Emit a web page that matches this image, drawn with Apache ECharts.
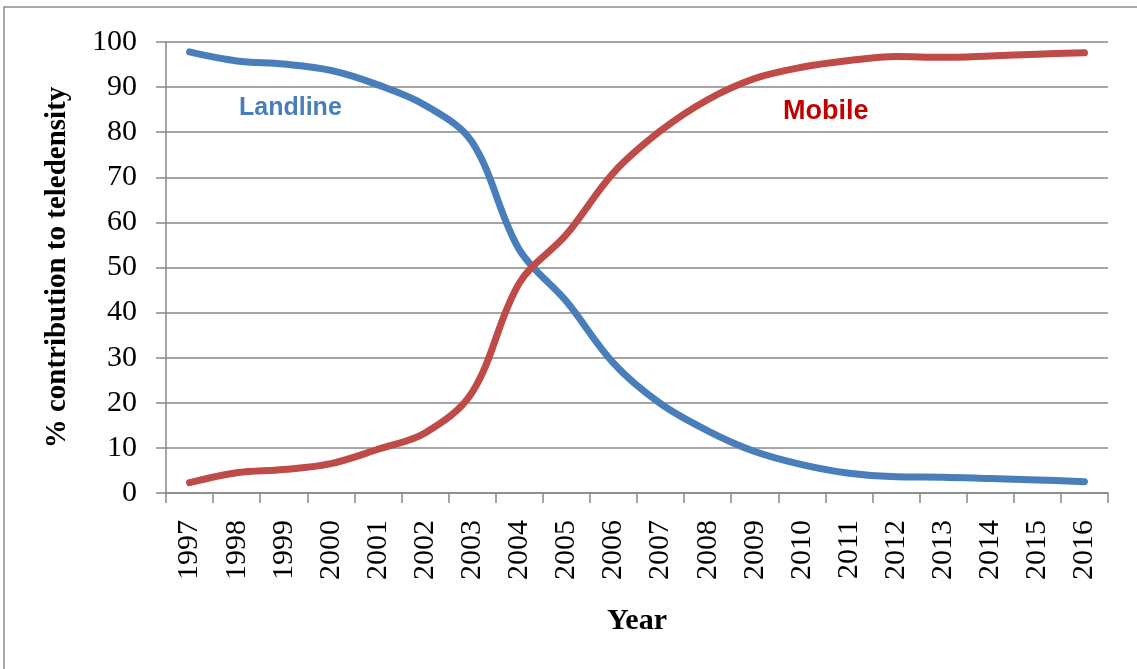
<!DOCTYPE html>
<html>
<head>
<meta charset="utf-8">
<script src="https://cdn.jsdelivr.net/npm/echarts@6/dist/echarts.min.js"></script>
<style>
  html, body { margin: 0; padding: 0; background: #fff; }
  #chart { width: 1137px; height: 669px; }
</style>
</head>
<body>
<div id="chart"></div>
<script>
// Share of each technology in total teledensity, by year
const years = ['1997','1998','1999','2000','2001','2002','2003','2004','2005','2006',
               '2007','2008','2009','2010','2011','2012','2013','2014','2015','2016'];
const landline = [97.8, 95.8, 95.1, 93.7, 90.5, 86.0, 77.8, 54.0, 42.5, 28.8,
                  19.8, 13.8, 9.2, 6.3, 4.4, 3.6, 3.5, 3.2, 2.9, 2.5];
const mobile   = [2.3, 4.5, 5.2, 6.5, 9.7, 13.3, 22.3, 46.5, 57.3, 71.0,
                  80.3, 87.2, 91.9, 94.4, 95.9, 96.8, 96.6, 96.9, 97.3, 97.6];

const serif = '"Liberation Serif", "Times New Roman", serif';
const sans = '"Liberation Sans", Arial, sans-serif';
const gridGray = '#878787';

const chart = echarts.init(document.getElementById('chart'), null, { renderer: 'canvas' });

chart.setOption({
  backgroundColor: '#ffffff',
  animation: false,
  grid: { left: 166, right: 29, top: 42, bottom: 176, containLabel: false },
  xAxis: {
    type: 'category',
    data: years,
    boundaryGap: true,
    name: 'Year',
    nameLocation: 'middle',
    nameGap: 113,
    nameTextStyle: { fontFamily: serif, fontSize: 30, fontWeight: 'bold', color: '#000' },
    axisLine: { show: true, lineStyle: { color: gridGray, width: 1.5 } },
    axisTick: { show: true, length: 10, alignWithLabel: false, lineStyle: { color: gridGray, width: 1.5 } },
    axisLabel: { rotate: 90, margin: 27, fontFamily: serif, fontSize: 30, color: '#000' },
    splitLine: { show: false }
  },
  yAxis: {
    type: 'value',
    min: 0,
    max: 100,
    interval: 10,
    name: '% contribution to teledensity',
    nameLocation: 'middle',
    nameRotate: 90,
    nameGap: 94,
    nameTextStyle: { fontFamily: serif, fontSize: 29, fontWeight: 'bold', color: '#000' },
    axisLine: { show: true, lineStyle: { color: gridGray, width: 1.5 } },
    axisTick: { show: true, length: 10, lineStyle: { color: gridGray, width: 1.5 } },
    axisLabel: { margin: 29, fontFamily: serif, fontSize: 30, color: '#000' },
    splitLine: { show: true, lineStyle: { color: gridGray, width: 1.5 } }
  },
  series: [
    {
      name: 'Landline',
      type: 'line',
      data: landline,
      smooth: 0.35,
      symbol: 'none',
      lineStyle: { color: '#4a7ebb', width: 7, cap: 'round', join: 'round' },
      itemStyle: { color: '#4a7ebb' }
    },
    {
      name: 'Mobile',
      type: 'line',
      data: mobile,
      smooth: 0.35,
      symbol: 'none',
      lineStyle: { color: '#be4b48', width: 7, cap: 'round', join: 'round' },
      itemStyle: { color: '#be4b48' }
    }
  ],
  graphic: [
    {
      type: 'rect',
      shape: { x: 4, y: 7, width: 1200, height: 720 },
      style: { fill: 'none', stroke: '#8c8c8c', lineWidth: 1.5 },
      silent: true
    },
    {
      type: 'text',
      left: 239,
      top: 96,
      style: { text: 'Landline', fill: '#4a7ebb', font: 'bold 25px ' + sans }
    },
    {
      type: 'text',
      left: 783,
      top: 98,
      style: { text: 'Mobile', fill: '#c00000', font: 'bold 27px ' + sans }
    }
  ]
});
</script>
</body>
</html>
